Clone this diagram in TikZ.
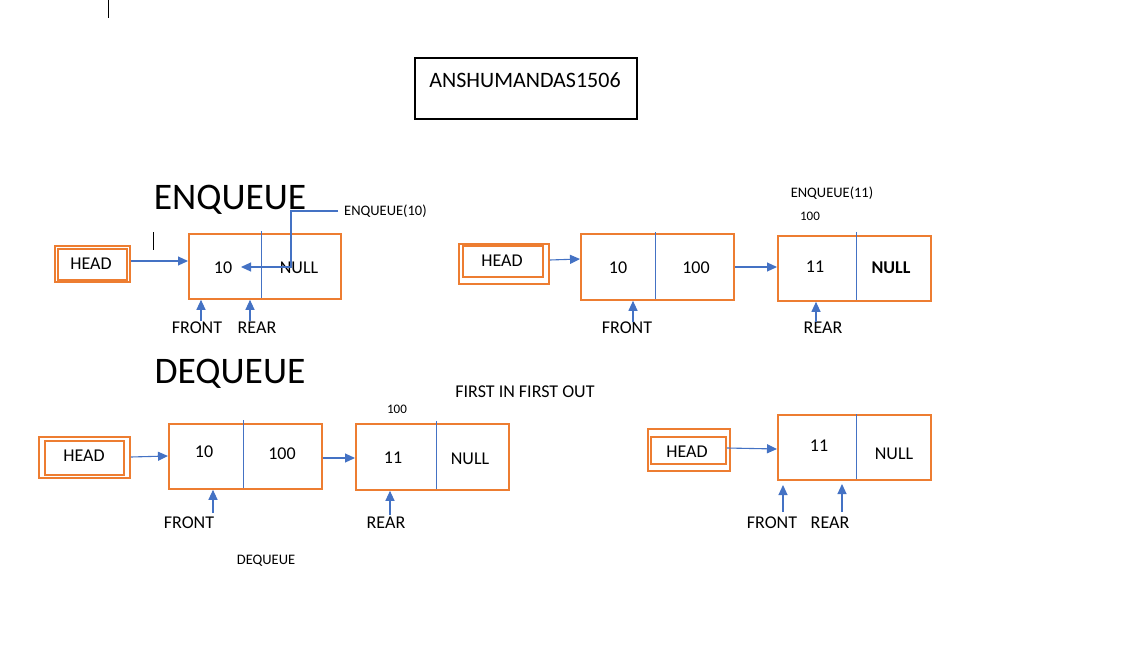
\documentclass[tikz,border=0pt]{standalone}
\usepackage{fontspec}
\setmainfont{Carlito}
\usetikzlibrary{arrows.meta}
\definecolor{orng}{HTML}{ED7D31}
\definecolor{blu}{HTML}{4472C4}
\tikzset{
  obox/.style={draw=orng, line width=1.8pt, inner sep=0pt, anchor=north west},
  bl/.style={draw=blu, line width=1pt},
  barrow/.style={draw=blu, line width=1.1pt, -{Triangle[length=10pt,width=9pt]}, blu},
  txt/.style={font=\fontsize{18}{20}\selectfont, inner sep=0pt, text=black},
  small/.style={font=\fontsize{14.5}{16}\selectfont, inner sep=0pt, text=black},
  tiny/.style={font=\fontsize{13}{14}\selectfont, inner sep=0pt, text=black},
  big/.style={font=\fontsize{37.5}{40}\selectfont, inner sep=0pt, text=black},
}
\begin{document}
\begin{tikzpicture}[x=1pt,y=-1pt]
\useasboundingbox[fill=white] (0,0) rectangle (1146,656);
% cursor marks
\draw[line width=1pt] (108,0) -- (108,18);
\draw[line width=1pt] (153,232) -- (153,250);
% title
\node[draw=black, line width=2pt, anchor=north west, minimum width=222, minimum height=61, inner sep=0pt] (title) at (414,57) {};
\node[font=\fontsize{22}{24}\selectfont, inner sep=0pt] (tt) at (525,80) {ANSHUMANDAS1506};
\node[big] (enq) at (230,200) {ENQUEUE};
\node[big] (deq) at (230,374) {DEQUEUE};

% ===== Section 1 =====
\node[obox, minimum width=75, minimum height=36] (h1o) at (54,245) {};
\node[obox, minimum width=69, minimum height=31] (h1i) at (57,248) {};
\node[txt] (h1) at (91,264) {HEAD};
\node[obox, minimum width=152, minimum height=65] (n1) at (188,233) {};
\draw[bl] (261,231) -- (261,298);
\node[txt] (v1) at (223,268) {10};
\node[txt] (p1) at (299,268) {NULL};
\draw[barrow] (h1o.east |- 0,261) -- (n1.west |- 0,261);
\node[small, anchor=west] (e10) at (344,211) {ENQUEUE(10)};
\coordinate (e10s) at (338,211);
\coordinate (e10t) at (241,267);
\draw[barrow] (e10s) -- (291,211) -- (291,267) -- (e10t);
\node[txt] (f1) at (197,328) {FRONT};
\node[txt] (r1) at (257,328) {REAR};
\coordinate (fa1) at (201,321);
\coordinate (ra1) at (250,321);
\draw[barrow] (fa1) -- (fa1 |- n1.south);
\draw[barrow] (ra1) -- (ra1 |- n1.south);

% ===== Section 2 =====
\node[obox, minimum width=90, minimum height=40] (h2o) at (458,243) {};
\node[obox, minimum width=80, minimum height=31] (h2i) at (462,245) {};
\node[txt] (h2) at (502,261) {HEAD};
\node[obox, minimum width=153, minimum height=66] (n2) at (580,233) {};
\draw[bl] (655,232) -- (655,299);
\node[txt] (v2) at (618,268) {10};
\node[txt] (p2) at (696,268) {100};
\node[obox, minimum width=153, minimum height=65] (n3) at (777,235) {};
\draw[bl] (856,232) -- (856,300);
\node[txt] (v3) at (815,267) {11};
\node[txt, font=\fontsize{18}{20}\selectfont\bfseries] (p3) at (891,268) {NULL};
\draw[barrow] (h2o.east |- 0,260) -- (n2.west |- 0,259);
\draw[barrow] (n2.east |- 0,267) -- (n3.west |- 0,267);
\node[small] (e11) at (832,193) {ENQUEUE(11)};
\node[tiny] (a11) at (810,216) {100};
\node[txt] (f2) at (627,328) {FRONT};
\node[txt] (r2) at (823,328) {REAR};
\coordinate (fa2) at (633,322);
\coordinate (ra2) at (816,322);
\draw[barrow] (fa2) -- (fa2 |- n2.south);
\draw[barrow] (ra2) -- (ra2 |- n3.south);

% ===== Section 3 =====
\node[obox, minimum width=91, minimum height=41] (h3o) at (38,436) {};
\node[obox, minimum width=79, minimum height=34] (h3i) at (44,440) {};
\node[txt] (h3) at (84,456) {HEAD};
\node[obox, minimum width=153, minimum height=65] (n4) at (168,423) {};
\draw[bl] (243,420) -- (243,488);
\node[txt] (v4) at (204,452) {10};
\node[txt] (p4) at (282,454) {100};
\node[obox, minimum width=153, minimum height=66] (n5) at (355,423) {};
\draw[bl] (436,421) -- (436,489);
\node[txt] (v5) at (393,458) {11};
\node[txt] (p5) at (470,459) {NULL};
\draw[barrow] (h3o.east |- 0,457) -- (n4.west |- 0,456);
\draw[barrow] (n4.east |- 0,458) -- (n5.west |- 0,458);
\node[tiny] (a5) at (397,409) {100};
\node[txt] (f3) at (189,523) {FRONT};
\node[txt] (r3) at (386,523) {REAR};
\coordinate (fa3) at (213,513);
\coordinate (ra3) at (390,515);
\draw[barrow] (fa3) -- (fa3 |- n4.south);
\draw[barrow] (ra3) -- (ra3 |- n5.south);
\node[small] (dq) at (266,561) {DEQUEUE};
\node[txt] (fifo) at (525,392) {FIRST IN FIRST OUT};

% ===== Section 4 =====
\node[obox, minimum width=82, minimum height=42] (h4o) at (647,428) {};
\node[obox, minimum width=75, minimum height=27] (h4i) at (650,436) {};
\node[txt] (h4) at (687,452) {HEAD};
\node[obox, minimum width=153, minimum height=65] (n6) at (777,414) {};
\draw[bl] (856,414) -- (856,479);
\node[txt] (v6) at (819,446) {11};
\node[txt] (p6) at (894,454) {NULL};
\draw[barrow] (h4i.east |- 0,448) -- (n6.west |- 0,449);
\node[txt] (f4) at (772,523) {FRONT};
\node[txt] (r4) at (830,523) {REAR};
\coordinate (fa4) at (783,512);
\coordinate (ra4) at (842,512);
\draw[barrow] (fa4) -- (fa4 |- 0,485);
\draw[barrow] (ra4) -- (ra4 |- 0,484);
\end{tikzpicture}
\end{document}
